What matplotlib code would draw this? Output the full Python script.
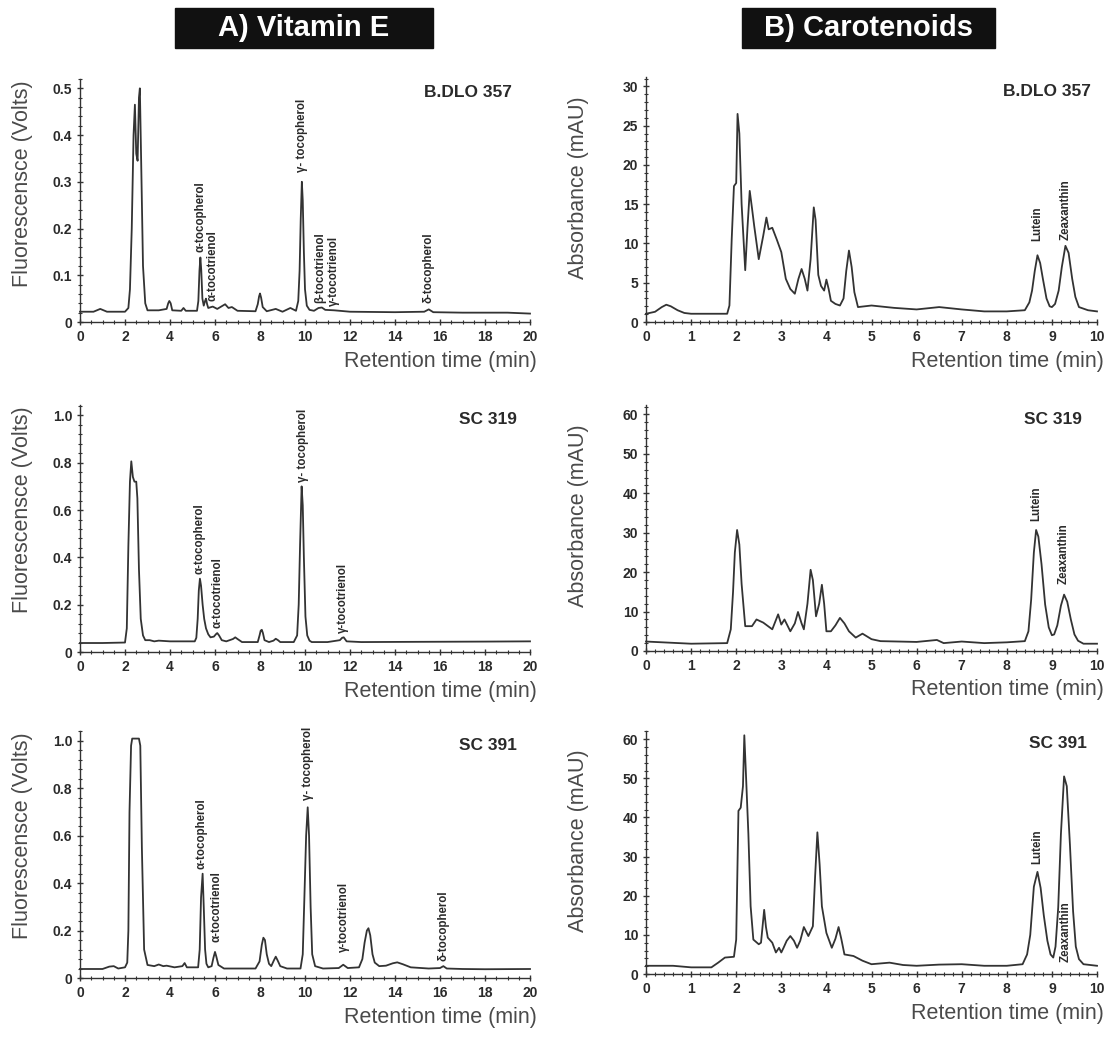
import matplotlib
matplotlib.use("Agg")
import matplotlib.pyplot as plt
from matplotlib.patches import Rectangle
from matplotlib.ticker import MultipleLocator

plt.rcParams['font.family'] = ['Liberation Sans', 'DejaVu Sans']

# ---- A) Vitamin E chromatograms (retention time in min, fluorescence in V) ----
ve1_t = [0, 0.6, 0.8, 0.9, 1.05, 1.2, 2.0, 2.15, 2.22, 2.3, 2.38, 2.44, 2.5, 2.56, 2.62,
         2.66, 2.72, 2.8, 2.9, 3.0, 3.5, 3.85, 3.92, 3.97, 4.03, 4.1, 4.5, 4.6, 4.7, 5.2,
         5.26, 5.31, 5.35, 5.39, 5.44, 5.5, 5.56, 5.6, 5.65, 5.7, 5.9, 6.1, 6.45, 6.6, 6.75,
         7.0, 7.8, 7.9, 7.96, 8.0, 8.05, 8.12, 8.3, 8.7, 9.0, 9.35, 9.6, 9.7, 9.76, 9.81,
         9.86, 9.9, 9.95, 10.0, 10.08, 10.2, 10.4, 10.6, 10.75, 10.9, 11.3, 12.0, 14.0,
         15.3, 15.5, 15.7, 17.0, 19.0, 20.0]
ve1_v = [0.022, 0.022, 0.026, 0.028, 0.025, 0.022, 0.022, 0.03, 0.07, 0.2, 0.40, 0.465,
         0.36, 0.345, 0.48, 0.50, 0.34, 0.12, 0.04, 0.025, 0.025, 0.028, 0.04, 0.045, 0.04,
         0.025, 0.024, 0.03, 0.024, 0.024, 0.045, 0.11, 0.138, 0.11, 0.05, 0.035, 0.045,
         0.05, 0.038, 0.03, 0.033, 0.028, 0.038, 0.03, 0.032, 0.024, 0.023, 0.038, 0.055,
         0.061, 0.052, 0.032, 0.023, 0.028, 0.022, 0.03, 0.024, 0.045, 0.11, 0.22, 0.30,
         0.26, 0.15, 0.07, 0.035, 0.026, 0.024, 0.03, 0.031, 0.026, 0.025, 0.022, 0.021,
         0.022, 0.027, 0.021, 0.02, 0.02, 0.018]

ve2_t = [0, 1.0, 2.0, 2.08, 2.15, 2.22, 2.28, 2.35, 2.42, 2.5, 2.55, 2.62, 2.7, 2.8, 2.9,
         3.1, 3.3, 3.5, 4.0, 5.1, 5.17, 5.23, 5.28, 5.33, 5.38, 5.45, 5.52, 5.6, 5.7, 5.8,
         5.95, 6.05, 6.1, 6.18, 6.3, 6.5, 6.8, 6.9, 7.0, 7.2, 7.9, 7.98, 8.03, 8.08, 8.13,
         8.2, 8.4, 8.6, 8.7, 8.8, 8.9, 9.5, 9.65, 9.72, 9.78, 9.85, 9.9, 9.95, 10.02, 10.1,
         10.2, 10.3, 11.0, 11.55, 11.65, 11.72, 11.85, 12.5, 15.0, 18.0, 20.0]
ve2_v = [0.038, 0.038, 0.04, 0.1, 0.45, 0.72, 0.806, 0.74, 0.72, 0.72, 0.65, 0.35, 0.14,
         0.07, 0.05, 0.05, 0.045, 0.048, 0.045, 0.045, 0.06, 0.14, 0.26, 0.31, 0.28, 0.2,
         0.14, 0.1, 0.075, 0.062, 0.065, 0.076, 0.08, 0.07, 0.05, 0.045, 0.055, 0.062,
         0.055, 0.042, 0.042, 0.07, 0.09, 0.094, 0.08, 0.05, 0.042, 0.048, 0.056, 0.05,
         0.042, 0.042, 0.07, 0.2, 0.45, 0.70, 0.62, 0.4, 0.15, 0.07, 0.048, 0.042, 0.042,
         0.05, 0.06, 0.062, 0.045, 0.042, 0.043, 0.044, 0.045]

ve3_t = [0, 1.0, 1.3, 1.5, 1.7, 2.0, 2.1, 2.15, 2.2, 2.27, 2.32, 2.62, 2.68, 2.75, 2.85,
         3.0, 3.3, 3.5, 3.7, 3.85, 4.2, 4.55, 4.65, 4.75, 5.25, 5.32, 5.38, 5.45, 5.5, 5.56,
         5.62, 5.7, 5.85, 5.93, 6.0, 6.06, 6.15, 6.4, 7.8, 7.98, 8.08, 8.15, 8.22, 8.3,
         8.4, 8.5, 8.62, 8.7, 8.78, 8.9, 9.2, 9.8, 9.9, 9.97, 10.05, 10.12, 10.18, 10.25,
         10.32, 10.45, 10.8, 11.5, 11.7, 11.9, 12.4, 12.55, 12.65, 12.75, 12.82, 12.9,
         13.0, 13.1, 13.3, 13.6, 13.9, 14.1, 14.35, 14.7, 15.5, 16.0, 16.15, 16.3, 17.0,
         18.0, 20.0]
ve3_v = [0.038, 0.038, 0.048, 0.05, 0.04, 0.045, 0.065, 0.2, 0.7, 0.98, 1.01, 1.01, 0.98,
         0.55, 0.12, 0.055, 0.05, 0.057, 0.05, 0.052, 0.045, 0.05, 0.063, 0.045, 0.045,
         0.12, 0.34, 0.44, 0.3, 0.12, 0.06, 0.045, 0.05, 0.085, 0.11, 0.09, 0.055, 0.04,
         0.04, 0.07, 0.14, 0.17, 0.16, 0.1, 0.06, 0.05, 0.075, 0.09, 0.075, 0.05, 0.04,
         0.04, 0.1, 0.33, 0.6, 0.72, 0.6, 0.3, 0.1, 0.05, 0.04, 0.042, 0.056, 0.042, 0.045,
         0.08, 0.15, 0.2, 0.21, 0.18, 0.1, 0.065, 0.05, 0.052, 0.062, 0.066, 0.058, 0.045,
         0.04, 0.042, 0.05, 0.04, 0.038, 0.037, 0.038]

# ---- B) Carotenoid chromatograms (retention time in min, absorbance in mAU) ----
ca1_t = [0, 0.2, 0.35, 0.45, 0.55, 0.7, 0.85, 1.0, 1.8, 1.85, 1.9, 1.95, 2.0, 2.03, 2.07,
         2.12, 2.2, 2.25, 2.3, 2.35, 2.4, 2.5, 2.6, 2.67, 2.72, 2.8, 2.9, 3.0, 3.1, 3.2,
         3.3, 3.38, 3.45, 3.52, 3.58, 3.65, 3.72, 3.76, 3.82, 3.88, 3.95, 4.0, 4.05, 4.1,
         4.2, 4.3, 4.38, 4.44, 4.5, 4.56, 4.62, 4.7, 5.0, 5.5, 6.0, 6.5, 7.0, 7.5, 8.0,
         8.4, 8.5, 8.56, 8.62, 8.68, 8.74, 8.8, 8.88, 8.95, 9.0, 9.07, 9.15, 9.22, 9.3,
         9.37, 9.45, 9.52, 9.6, 9.8, 10.0]
ca1_v = [1.05, 1.3, 1.9, 2.2, 2.0, 1.5, 1.15, 1.05, 1.05, 2.1, 10.5, 17.3, 17.7, 26.5,
         24, 15, 6.6, 12, 16.7, 14.5, 12.2, 8, 11, 13.3, 11.8, 12, 10.5, 8.9, 5.5, 4.2,
         3.6, 5.5, 6.75, 5.5, 4.0, 8, 14.6, 13, 6, 4.6, 4, 5.4, 4.2, 2.7, 2.3, 2.1, 3.0,
         6.5, 9.1, 7, 3.8, 1.9, 2.1, 1.8, 1.6, 1.9, 1.6, 1.35, 1.35, 1.5, 2.5, 4.0, 6.5,
         8.5, 7.5, 5.5, 3.0, 2.0, 1.9, 2.3, 4, 7.0, 9.7, 8.8, 5.5, 3.2, 1.9, 1.5, 1.35]

ca2_t = [0, 1.0, 1.8, 1.88, 1.93, 1.97, 2.02, 2.07, 2.12, 2.2, 2.35, 2.45, 2.6, 2.8,
         2.93, 3.0, 3.07, 3.2, 3.3, 3.37, 3.45, 3.5, 3.58, 3.65, 3.7, 3.77, 3.84, 3.9,
         3.95, 4.0, 4.1, 4.2, 4.3, 4.4, 4.5, 4.65, 4.8, 5.0, 5.2, 6.0, 6.45, 6.6, 7.0, 7.5,
         8.0, 8.4, 8.48, 8.54, 8.6, 8.65, 8.7, 8.77, 8.85, 8.93, 9.0, 9.05, 9.12, 9.2,
         9.27, 9.34, 9.42, 9.5, 9.58, 9.7, 10.0]
ca2_v = [2.4, 1.85, 2.0, 5.5, 15, 25, 30.7, 27, 17, 6.3, 6.3, 8, 7.2, 5.5, 9.3, 6.7, 8,
         5, 7, 9.9, 7, 5.5, 12, 20.6, 18, 8.8, 12, 16.8, 12, 5, 5, 6.5, 8.4, 7, 5, 3.4,
         4.4, 3, 2.5, 2.3, 2.8, 2.0, 2.4, 2.0, 2.2, 2.5, 5, 13, 25, 30.7, 29, 22, 11.8, 6,
         4.0, 4.2, 6.5, 11.5, 14.3, 12.5, 8, 4.2, 2.6, 1.85, 1.85]

ca3_t = [0, 0.6, 1.0, 1.45, 1.6, 1.75, 1.95, 2.0, 2.05, 2.1, 2.15, 2.18, 2.22, 2.27, 2.32,
         2.38, 2.5, 2.55, 2.6, 2.62, 2.66, 2.7, 2.8, 2.88, 2.95, 3.0, 3.05, 3.12, 3.2, 3.28,
         3.35, 3.42, 3.5, 3.6, 3.7, 3.75, 3.8, 3.85, 3.9, 4.0, 4.12, 4.2, 4.27, 4.33, 4.4,
         4.6, 4.8, 5.0, 5.4, 5.7, 6.0, 6.5, 7.0, 7.5, 8.0, 8.35, 8.45, 8.52, 8.6, 8.68,
         8.75, 8.82, 8.9, 8.97, 9.03, 9.08, 9.14, 9.2, 9.27, 9.33, 9.4, 9.47, 9.53, 9.6,
         9.7, 10.0]
ca3_v = [2.1, 2.1, 1.7, 1.7, 2.9, 4.2, 4.4, 8.8, 41.7, 42.5, 48, 61, 50, 35.8, 17.3,
         8.8, 7.6, 8, 14, 16.4, 12, 9.3, 8, 5.5, 6.7, 5.5, 6.7, 8.5, 9.7, 8.5, 6.7, 8.5,
         12, 9.7, 12.2, 25, 36.2, 28, 17.3, 10.5, 6.7, 9, 12, 9, 5, 4.6, 3.4, 2.5, 2.9,
         2.3, 2.1, 2.4, 2.5, 2.1, 2.1, 2.5, 5, 10, 22.3, 26.1, 22, 15, 8.5, 5, 4.2, 7,
         17, 35.8, 50.5, 48, 33, 16, 7, 3.8, 2.5, 2.1]

samples = ['B.DLO 357', 'SC 319', 'SC 391']

# peak labels: (text, retention time, y of label bottom)
ve1_peaks = [('α-tocopherol', 5.35, 0.15), ('α-tocotrienol', 5.9, 0.045),
             ('γ- tocopherol', 9.85, 0.32), ('β-tocotrienol', 10.68, 0.04),
             ('γ-tocotrienol', 11.3, 0.035), ('δ-tocopherol', 15.5, 0.04)]
ve2_peaks = [('α-tocopherol', 5.3, 0.33), ('α-tocotrienol', 6.1, 0.10),
             ('γ- tocopherol', 9.9, 0.72), ('γ-tocotrienol', 11.7, 0.08)]
ve3_peaks = [('α-tocopherol', 5.4, 0.46), ('α-tocotrienol', 6.05, 0.15),
             ('γ- tocopherol', 10.15, 0.75), ('γ-tocotrienol', 11.75, 0.11),
             ('δ-tocopherol', 16.15, 0.07)]
ca1_peaks = [('Lutein', 8.68, 10.3), ('Zeaxanthin', 9.3, 10.5)]
ca2_peaks = [('Lutein', 8.65, 33), ('Zeaxanthin', 9.27, 17)]
ca3_peaks = [('Lutein', 8.68, 28), ('Zeaxanthin', 9.3, 3)]

W, H = 1112, 1039
fig = plt.figure(figsize=(W / 100, H / 100), dpi=100)

LINE = '#333333'
TXT = '#2a2a2a'
LAB = '#4a4a4a'


def px_axes(left, bottom, right, top):
    return fig.add_axes([left / W, 1 - bottom / H, (right - left) / W, (bottom - top) / H])


def style(ax, xmax, ymax, xmaj, xmin, ymaj, ymin, fmt, ylabel, ylab_y, ylab_x):
    ax.set_xlim(0, xmax)
    ax.set_ylim(0, ymax)
    for s in ['top', 'right']:
        ax.spines[s].set_visible(False)
    for s in ['left', 'bottom']:
        ax.spines[s].set_color(LINE)
        ax.spines[s].set_linewidth(1.0)
    ax.xaxis.set_major_locator(MultipleLocator(xmaj))
    ax.xaxis.set_minor_locator(MultipleLocator(xmin))
    ax.yaxis.set_major_locator(MultipleLocator(ymaj))
    ax.yaxis.set_minor_locator(MultipleLocator(ymin))
    ax.tick_params(which='major', direction='inout', length=5, width=1, color=LINE,
                   labelsize=10, labelcolor=TXT, pad=3)
    ax.tick_params(which='minor', direction='inout', length=3, width=0.8, color=LINE)
    for lbl in ax.get_xticklabels() + ax.get_yticklabels():
        lbl.set_fontweight('bold')
    ax.yaxis.set_major_formatter(fmt)
    ax.text(ylab_x, ylab_y, ylabel, transform=ax.transAxes, rotation=90, ha='center',
            va='center', fontsize=15.5, color=LAB)
    h = ax.get_position().height * H
    ax.text(1.015, -39 / h, 'Retention time (min)', transform=ax.transAxes, ha='right',
            va='center', fontsize=15.5, color=LAB)


def fmt_v(v, pos):
    return '0' if v == 0 else f'{v:.1f}'


def fmt_a(v, pos):
    return f'{v:.0f}'


left_panels = [
    (ve1_t, ve1_v, ve1_peaks, 0.52, 0.1, 0.02, (80, 322, 530, 79), 0.96, 0.946, 0.57),
    (ve2_t, ve2_v, ve2_peaks, 1.044, 0.2, 0.04, (80, 652, 530, 405), 0.97, 0.943, 0.575),
    (ve3_t, ve3_v, ve3_peaks, 1.042, 0.2, 0.04, (80, 978, 530, 731), 0.97, 0.94, 0.575),
]
right_panels = [
    (ca1_t, ca1_v, ca1_peaks, 31.2, 5, 1, (646, 322, 1097, 77), 0.987, 0.94, 0.55),
    (ca2_t, ca2_v, ca2_peaks, 62.4, 10, 2, (646, 651, 1097, 405), 0.967, 0.94, 0.55),
    (ca3_t, ca3_v, ca3_peaks, 62.1, 10, 2, (646, 974, 1097, 731), 0.978, 0.95, 0.55),
]

for i, (t, v, peaks, ymax, ymaj, ymin, box, nx, ny, ly) in enumerate(left_panels):
    ax = px_axes(*box)
    ax.plot(t, v, color=LINE, lw=1.3, clip_on=False)
    style(ax, 20, ymax, 2, 0.5, ymaj, ymin, plt.FuncFormatter(fmt_v),
          'Fluorescensce (Volts)', ly, -0.127)
    for name, x, y in peaks:
        ax.text(x, y, name, rotation=90, ha='center', va='bottom', fontsize=8.3,
                fontweight='bold', color=TXT)
    ax.text(nx, ny, samples[i], transform=ax.transAxes, ha='right', va='center',
            fontsize=12.5, fontweight='bold', color=TXT)

for i, (t, v, peaks, ymax, ymaj, ymin, box, nx, ny, ly) in enumerate(right_panels):
    ax = px_axes(*box)
    ax.plot(t, v, color=LINE, lw=1.3, clip_on=False)
    style(ax, 10, ymax, 1, 0.2, ymaj, ymin, plt.FuncFormatter(fmt_a),
          'Absorbance (mAU)', ly, -0.15)
    for name, x, y in peaks:
        ax.text(x, y, name, rotation=90, ha='center', va='bottom', fontsize=8.3,
                fontweight='bold', color=TXT)
    ax.text(nx, ny, samples[i], transform=ax.transAxes, ha='right', va='center',
            fontsize=12.5, fontweight='bold', color=TXT)

# column headers in black boxes
for text, x0, x1 in [('A) Vitamin E', 175, 433), ('B) Carotenoids', 742, 995)]:
    fig.patches.append(Rectangle((x0 / W, 1 - 48 / H), (x1 - x0) / W, 40 / H,
                                 transform=fig.transFigure, color='#111111'))
    fig.text((x0 + x1) / 2 / W, 1 - 28 / H, text, ha='center', va='center', color='white',
             fontsize=21, fontweight='bold')

fig.savefig('out.png', dpi=100)
